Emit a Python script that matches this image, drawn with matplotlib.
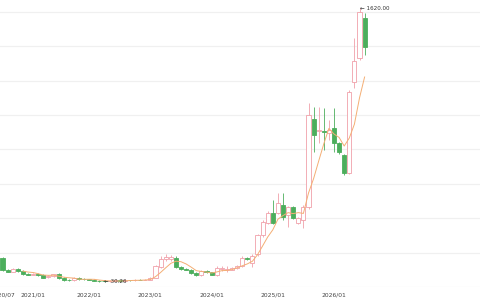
import numpy as np
import pandas as pd
import matplotlib
matplotlib.use("Agg")
import matplotlib.pyplot as plt

# monthly candles
opens = [169, 99, 90, 104, 93, 76, 72, 76, 72, 56, 65, 78, 52, 40, 38, 54, 47, 45, 42, 37,
         34, 32, 35, 38, 36, 40, 38, 42, 40, 43, 55, 118, 160, 165, 170, 118, 104, 100, 82, 70,
         92, 88, 72, 105, 100, 100, 108, 120, 168, 140, 190, 300, 372, 430, 430, 477, 419, 465, 372, 390,
         465, 977, 905, 905, 895, 924, 837, 767, 663, 1192, 1331, 1564]
highs = [175, 104, 110, 108, 96, 80, 80, 79, 75, 70, 78, 82, 56, 45, 58, 58, 50, 48, 45, 40,
         36, 38, 41, 42, 44, 43, 45, 46, 47, 60, 130, 178, 190, 185, 178, 122, 108, 103, 85, 100,
         96, 90, 125, 125, 120, 115, 130, 178, 172, 190, 310, 390, 440, 506, 547, 547, 470, 470, 405, 475,
         1070, 1047, 1047, 1041, 971, 1041, 845, 775, 1145, 1448, 1620, 1593]
lows = [95, 86, 85, 90, 72, 68, 68, 66, 52, 52, 60, 47, 37, 35, 35, 42, 40, 38, 33, 31,
        30.26, 31, 33, 34, 34, 36, 36, 38, 38, 41, 52, 110, 150, 150, 112, 100, 96, 78, 66, 66,
        84, 68, 65, 95, 88, 96, 104, 115, 158, 116, 180, 290, 365, 365, 425, 390, 349, 395, 365, 343,
        455, 785, 837, 797, 855, 785, 775, 651, 655, 1157, 1320, 1349]
closes = [99, 90, 105, 93, 75, 72, 76, 70, 55, 66, 75, 50, 40, 38, 55, 46, 44, 42, 36, 33,
          32, 35, 38, 36, 40, 38, 42, 40, 43, 55, 120, 165, 175, 172, 118, 105, 100, 82, 70, 95,
          88, 72, 112, 108, 103, 110, 125, 170, 163, 180, 300, 380, 430, 372, 488, 407, 465, 401, 401, 465,
          1000, 884, 913, 900, 913, 837, 785, 663, 1134, 1314, 1599, 1395]

tick_pos = [0, 6, 17, 29, 41, 53, 65]
tick_labels = ['2020/07', '2021/01', '2022/01', '2023/01', '2024/01', '2025/01', '2026/01']

max_label = '← 1620.00'
min_label = '← 30.26'

up_color = '#f0a0a9'
down_color = '#4cae5c'
ma_color = '#f4ae74'

o = np.array(opens, dtype=float)
h = np.array(highs, dtype=float)
l = np.array(lows, dtype=float)
c = np.array(closes, dtype=float)
x = np.arange(len(o))
up = c >= o

fig = plt.figure(figsize=(4.8, 3.0), dpi=100)
ax = fig.add_axes([0, 13 / 300, 1, 287 / 300])

# wicks under the bodies
ax.vlines(x[up], l[up], h[up], color=up_color, lw=0.6, zorder=2)
ax.vlines(x[~up], l[~up], h[~up], color=down_color, lw=0.6, zorder=2)

# hollow up bodies, filled down bodies
ax.bar(x[up], c[up] - o[up], bottom=o[up], width=0.8, facecolor='white',
       edgecolor=up_color, linewidth=0.6, zorder=3)
ax.bar(x[~up], o[~up] - c[~up], bottom=c[~up], width=0.8, facecolor=down_color,
       edgecolor=down_color, linewidth=0.6, zorder=3)

# 5 month moving average of the closes
ma5 = pd.Series(c).rolling(5).mean()
ax.plot(x, ma5, color=ma_color, lw=0.7, zorder=4)

# max / min marks
imax = int(np.argmax(h))
imin = int(np.argmin(l))
ax.text(imax, h[imax], max_label, fontsize=4.1, color='#333333', ha='left', va='center', zorder=5)
ax.text(imin, l[imin], min_label, fontsize=4.1, color='#333333', ha='left', va='center', zorder=5)

ax.set_xlim(-2.5 / 5.1, (480 - 2.5) / 5.1)
ax.set_ylim(0, 287 / 0.172)
ax.set_yticks(np.arange(0, 1601, 200))
ax.grid(axis='y', color='#f0f0f0', lw=0.9)
ax.set_axisbelow(True)
ax.set_xticks(tick_pos)
ax.set_xticklabels(tick_labels, fontsize=4.3, color='#444444')
ax.tick_params(axis='x', length=0, pad=4)
ax.tick_params(axis='y', left=False, labelleft=False)
for s in ax.spines.values():
    s.set_visible(False)

fig.savefig('out.png', dpi=100)
